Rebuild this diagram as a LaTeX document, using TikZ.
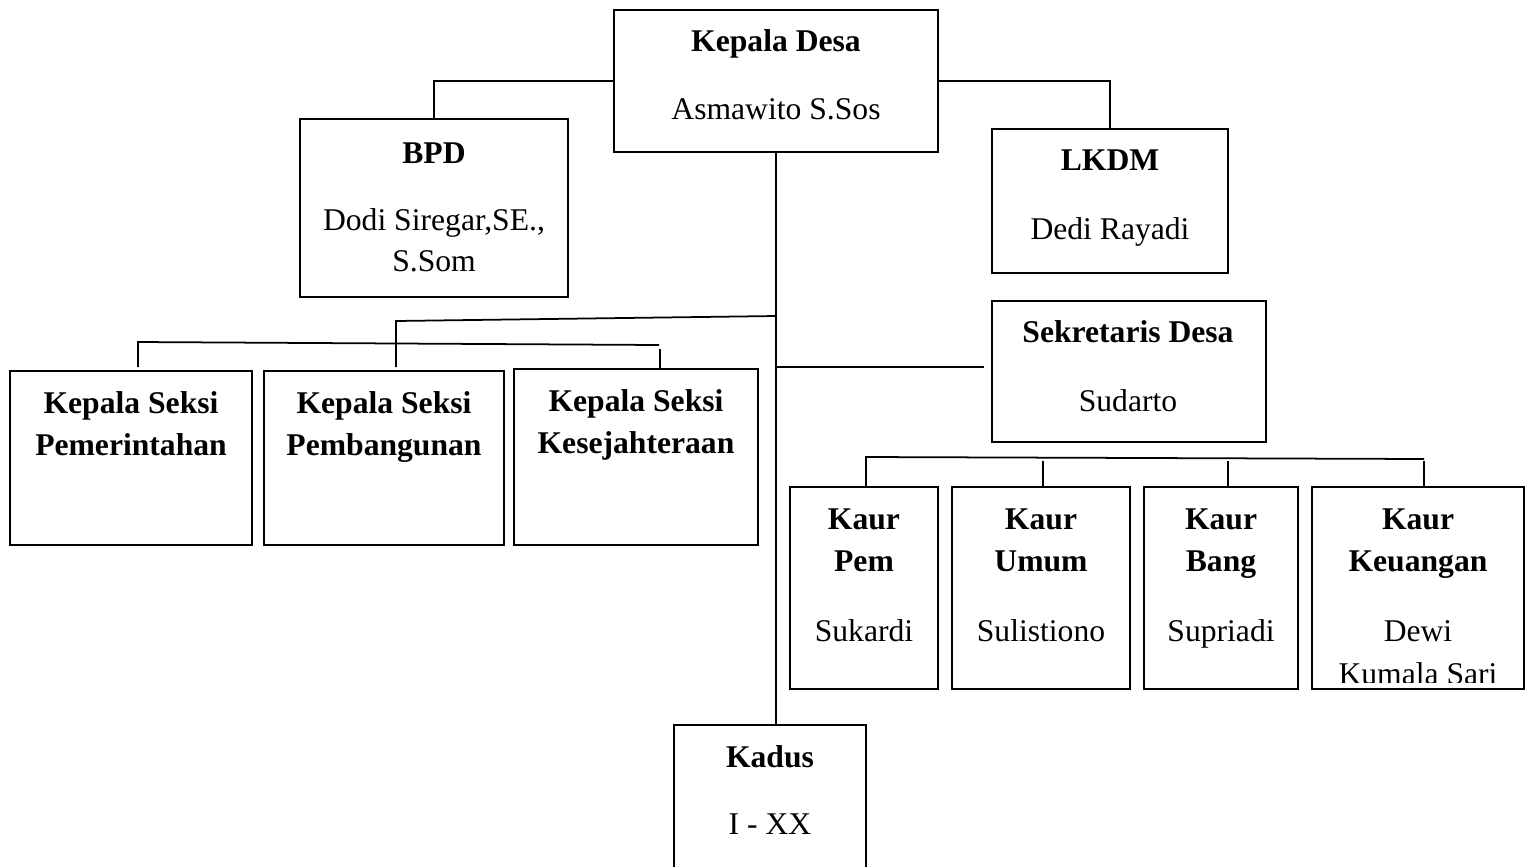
\documentclass[tikz,border=0pt]{standalone}
\usepackage{fontspec}
\setmainfont{Liberation Serif}
\begin{document}
\begin{tikzpicture}[x=0.02cm,y=-0.02cm,
  box/.style={draw,line width=1pt,inner sep=0pt,outer sep=0pt,rectangle},
  conn/.style={line width=1pt},
  tx/.style={anchor=base,inner sep=0pt,font=\fontsize{18}{22}\selectfont},
  bt/.style={tx,font=\fontsize{18}{22}\selectfont\bfseries}]
\useasboundingbox (0,0) rectangle (1530,866);
\newcommand\mybox[5]{\node[box,minimum width={(#4-#2)*0.02cm},minimum height={(#5-#3)*0.02cm}] (#1) at ({(#2+#4)/2},{(#3+#5)/2}) {};}
\mybox{kd}{614}{10}{938}{152}
\mybox{bpd}{300}{119}{568}{297}
\mybox{lkdm}{992}{129}{1228}{273}
\mybox{sek}{992}{301}{1266}{442}
\mybox{ksa}{10}{371}{252}{545}
\mybox{ksb}{264}{371}{504}{545}
\mybox{ksc}{514}{369}{758}{545}
\mybox{kra}{790}{487}{938}{689}
\mybox{krb}{952}{487}{1130}{689}
\mybox{krc}{1144}{487}{1298}{689}
\mybox{krd}{1312}{487}{1524}{689}
\mybox{kadus}{674}{725}{866}{890}
% texts
\node[bt] (t1) at (776,51) {Kepala Desa};
\node[tx] (t2) at (776,119) {Asmawito S.Sos};
\node[bt] (t3) at (434,163) {BPD};
\node[tx] (t4) at (434,230) {Dodi Siregar,SE.,};
\node[tx] (t5) at (434,271) {S.Som};
\node[bt] (t6) at (1110,170) {LKDM};
\node[tx] (t7) at (1110,239) {Dedi Rayadi};
\node[bt] (t8) at (1128,342) {Sekretaris Desa};
\node[tx] (t9) at (1128,411) {Sudarto};
\node[bt] (t10) at (131,413) {Kepala Seksi};
\node[bt] (t11) at (131,455) {Pemerintahan};
\node[bt] (t12) at (384,413) {Kepala Seksi};
\node[bt] (t13) at (384,455) {Pembangunan};
\node[bt] (t14) at (636,411) {Kepala Seksi};
\node[bt] (t15) at (636,453) {Kesejahteraan};
\node[bt] (t16) at (864,529) {Kaur};
\node[bt] (t17) at (864,571) {Pem};
\node[tx] (t18) at (864,641) {Sukardi};
\node[bt] (t19) at (1041,529) {Kaur};
\node[bt] (t20) at (1041,571) {Umum};
\node[tx] (t21) at (1041,641) {Sulistiono};
\node[bt] (t22) at (1221,529) {Kaur};
\node[bt] (t23) at (1221,571) {Bang};
\node[tx] (t24) at (1221,641) {Supriadi};
\node[bt] (t25) at (1418,529) {Kaur};
\node[bt] (t26) at (1418,571) {Keuangan};
\node[tx] (t27) at (1418,641) {Dewi};
\begin{scope}
\clip (1313,600) rectangle (1523,682);
\node[tx] (t28) at (1418,684) {Kumala Sari};
\end{scope}
\node[bt] (t29) at (770,767) {Kadus};
\node[tx] (t30) at (770,834) {I - XX};
% connectors
\draw[conn] (kd.west) -| (bpd.north);
\draw[conn] (kd.east) -| (lkdm.north);
\draw[conn] (kd.south) -- (kd.south |- kadus.north);
\coordinate (s1) at (776,367);
\coordinate (s2) at (984,367);
\draw[conn] (s1) -- (s2);
\coordinate (a1) at (776,316);
\coordinate (a2) at (396,321);
\coordinate (a3) at (396,367);
\draw[conn] (a1) -- (a2) -- (a3);
\coordinate (b1) at (138,342);
\coordinate (b2) at (659,345);
\coordinate (b3) at (138,367);
\draw[conn] (b3) -- (b1) -- (b2);
\coordinate (b4) at (660,349);
\draw[conn] (b4) -- (b4 |- ksc.north);
\coordinate (c1) at (866,457);
\coordinate (c2) at (1424,459);
\draw[conn] (c1 |- kra.north) -- (c1) -- (c2);
\coordinate (c3) at (1043,461);
\coordinate (c4) at (1228,461);
\coordinate (c5) at (1424,461);
\draw[conn] (c3) -- (c3 |- krb.north);
\draw[conn] (c4) -- (c4 |- krc.north);
\draw[conn] (c5) -- (c5 |- krd.north);
\end{tikzpicture}
\end{document}
